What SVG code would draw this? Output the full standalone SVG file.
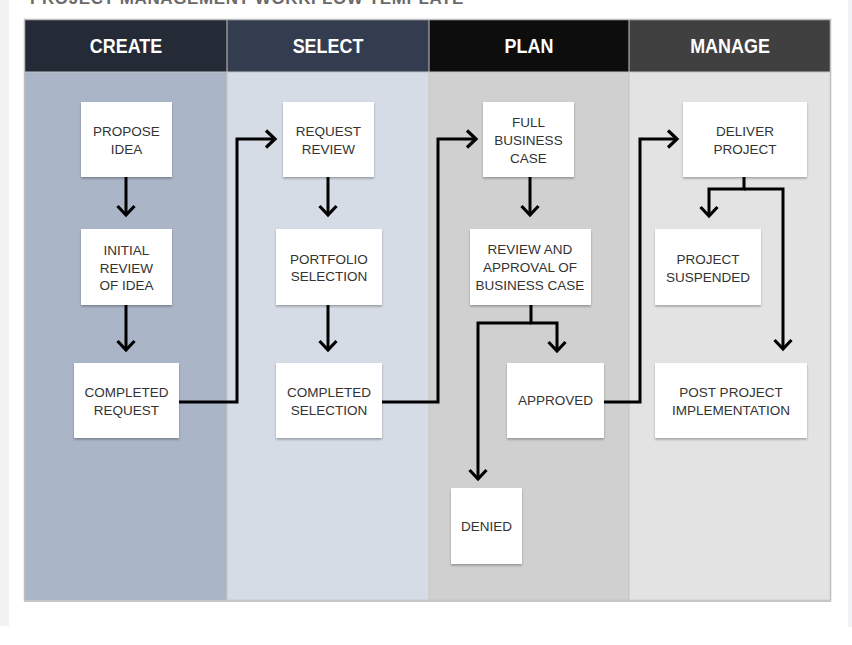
<svg xmlns="http://www.w3.org/2000/svg" width="852" height="645" viewBox="0 0 852 645">
<style>
.hdr{font-family:"Liberation Sans",Arial,sans-serif;font-weight:bold;font-size:19.5px;fill:#ffffff;text-anchor:middle}
.lbl{font-family:"Liberation Sans",Arial,sans-serif;font-size:13.5px;fill:#333333;text-anchor:middle}
.box{fill:#ffffff;filter:url(#sh)}
.con{fill:none;stroke:#000000;stroke-width:3;marker-end:url(#arr)}
</style>
<defs>
<filter id="sh" x="-10%" y="-10%" width="120%" height="130%">
<feDropShadow dx="0" dy="1.5" stdDeviation="1" flood-color="#000" flood-opacity="0.3"/>
</filter>
<marker id="arr" viewBox="-12 -12 24 24" markerWidth="24" markerHeight="24" refX="0" refY="0" orient="auto" markerUnits="userSpaceOnUse">
<path d="M-9,-8.5 L0,0 L-9,8.5" fill="none" stroke="#000" stroke-width="3.2"/>
</marker>
</defs>
<rect x="0" y="0" width="852" height="645" fill="#ffffff"/>
<rect x="0" y="0" width="9" height="626" fill="#f0f2f4"/>
<rect x="848" y="0" width="4" height="627" fill="#f0f2f4"/>
<text x="30" y="3.5" font-family="Liberation Sans,Arial,sans-serif" font-weight="bold" font-size="17" fill="#6a6a6a" letter-spacing="0.6">PROJECT MANAGEMENT WORKFLOW TEMPLATE</text>
<g id="table">
<rect x="25" y="72" width="202" height="528" fill="#abb5c8"/>
<rect x="227" y="72" width="202" height="528" fill="#d5dce6"/>
<rect x="429" y="72" width="200" height="528" fill="#d0d0d0"/>
<rect x="629" y="72" width="201" height="528" fill="#e3e3e3"/>
<rect x="25" y="20" width="202" height="52" fill="#242a36"/>
<rect x="227" y="20" width="202" height="52" fill="#343d4f"/>
<rect x="429" y="20" width="200" height="52" fill="#0d0d0d"/>
<rect x="629" y="20" width="201" height="52" fill="#404040"/>
<g stroke="#c4c4c4" stroke-width="1">
<line x1="227" y1="20" x2="227" y2="600"/>
<line x1="429" y1="20" x2="429" y2="600"/>
<line x1="629" y1="20" x2="629" y2="600"/>
<line x1="25" y1="72" x2="830" y2="72"/>
</g>
<rect x="24.5" y="19.5" width="806" height="581" fill="none" stroke="#bdbdbd" stroke-width="1.5"/>
<line x1="24" y1="601" x2="831" y2="601" stroke="#c6c6c6" stroke-width="2"/>
<text class="hdr" transform="translate(126,53) scale(0.92,1)">CREATE</text>
<text class="hdr" transform="translate(328,53) scale(0.92,1)">SELECT</text>
<text class="hdr" transform="translate(529,53) scale(0.92,1)">PLAN</text>
<text class="hdr" transform="translate(730,53) scale(0.92,1)">MANAGE</text>
</g>
<g id="connectors">
<path class="con" d="M126,177 V215"/>
<path class="con" d="M126,305 V350"/>
<path class="con" d="M179,402 H237 V139 H275"/>
<path class="con" d="M328,177 V215"/>
<path class="con" d="M328,305 V350"/>
<path class="con" d="M382,402 H438 V139 H476"/>
<path class="con" d="M530,177 V215"/>
<path class="con" d="M531,305 V323 H557 V351"/>
<path class="con" d="M531,323 H478 V479"/>
<path class="con" d="M604,402 H640 V139 H677"/>
<path class="con" d="M744,177 V189 H709 V216"/>
<path class="con" d="M744,189 H783 V349"/>
</g>
<g id="propose-idea"><rect class="box" x="81" y="102" width="91" height="75"/>
<text class="lbl" x="126.5" y="136">PROPOSE</text><text class="lbl" x="126.5" y="154">IDEA</text></g>
<g id="initial-review"><rect class="box" x="81" y="229" width="91" height="76"/>
<text class="lbl" x="126.5" y="255">INITIAL</text><text class="lbl" x="126.5" y="272.5">REVIEW</text><text class="lbl" x="126.5" y="290">OF IDEA</text></g>
<g id="completed-request"><rect class="box" x="74" y="363" width="105" height="75"/>
<text class="lbl" x="126.5" y="397">COMPLETED</text><text class="lbl" x="126.5" y="414.5">REQUEST</text></g>
<g id="request-review"><rect class="box" x="283" y="102" width="91" height="75"/>
<text class="lbl" x="328.5" y="136">REQUEST</text><text class="lbl" x="328.5" y="154">REVIEW</text></g>
<g id="portfolio-selection"><rect class="box" x="276" y="229" width="106" height="76"/>
<text class="lbl" x="329" y="263.5">PORTFOLIO</text><text class="lbl" x="329" y="281">SELECTION</text></g>
<g id="completed-selection"><rect class="box" x="276" y="363" width="106" height="75"/>
<text class="lbl" x="329" y="397">COMPLETED</text><text class="lbl" x="329" y="414.5">SELECTION</text></g>
<g id="full-business-case"><rect class="box" x="483" y="102" width="91" height="75"/>
<text class="lbl" x="528.5" y="126.5">FULL</text><text class="lbl" x="528.5" y="144.5">BUSINESS</text><text class="lbl" x="528.5" y="162.5">CASE</text></g>
<g id="review-approval"><rect class="box" x="470" y="229" width="121" height="76"/>
<text class="lbl" x="530" y="254">REVIEW AND</text><text class="lbl" x="530" y="272">APPROVAL OF</text><text class="lbl" x="530" y="290">BUSINESS CASE</text></g>
<g id="approved"><rect class="box" x="507" y="363" width="97" height="75"/>
<text class="lbl" x="555.5" y="405">APPROVED</text></g>
<g id="denied"><rect class="box" x="451" y="488" width="71" height="76"/>
<text class="lbl" x="486.5" y="531">DENIED</text></g>
<g id="deliver-project"><rect class="box" x="683" y="102" width="124" height="75"/>
<text class="lbl" x="745" y="136">DELIVER</text><text class="lbl" x="745" y="154">PROJECT</text></g>
<g id="project-suspended"><rect class="box" x="655" y="229" width="106" height="76"/>
<text class="lbl" x="708" y="263.5">PROJECT</text><text class="lbl" x="708" y="281.5">SUSPENDED</text></g>
<g id="post-project"><rect class="box" x="655" y="363" width="152" height="75"/>
<text class="lbl" x="731" y="397">POST PROJECT</text><text class="lbl" x="731" y="414.5">IMPLEMENTATION</text></g>
</svg>
